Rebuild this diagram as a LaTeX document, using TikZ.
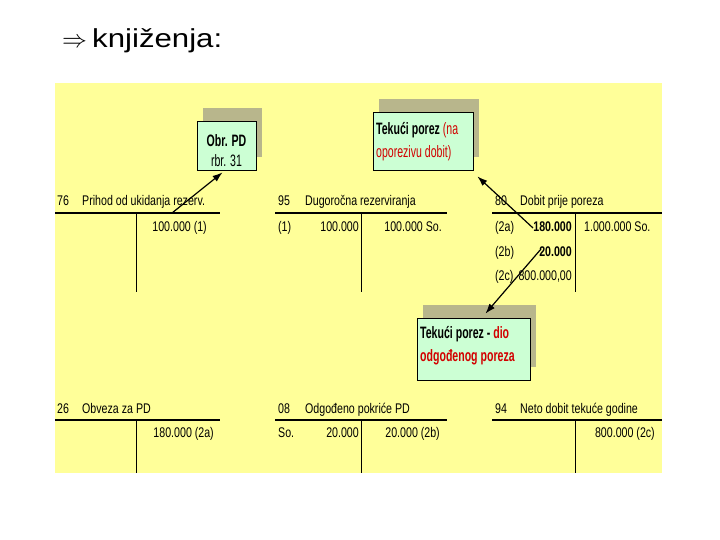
\documentclass[tikz,border=0pt]{standalone}
\usepackage{fontspec}
\setmainfont{Liberation Sans}
\newfontfamily\nar[FakeStretch=0.76]{Liberation Sans}
\newfontfamily\narr[FakeStretch=0.64]{Liberation Sans}
\newfontfamily\widefont[FakeStretch=1.2]{Liberation Sans}
\usetikzlibrary{shadows,arrows.meta}
\definecolor{bgyellow}{HTML}{FFFF99}
\definecolor{boxgreen}{HTML}{CCFFD4}
\definecolor{shadowc}{HTML}{B8B68C}
\definecolor{redtxt}{HTML}{D20000}
\tikzset{
  lbl/.style={inner sep=0pt, font=\nar\fontsize{14}{16}\selectfont},
  blbl/.style={inner sep=0pt, font=\nar\bfseries\fontsize{14}{16}\selectfont},
  boxtxt/.style={inner sep=0pt, font=\narr\fontsize{16.5}{19}\selectfont},
  acline/.style={line width=1.4pt},
  vline/.style={line width=0.9pt},
  notebox/.style={draw=black, line width=0.9pt, fill=boxgreen, inner sep=0pt,
     general shadow={fill=shadowc, shadow xshift=6pt, shadow yshift=13pt}},
  pointer/.style={line width=1.2pt, -{Latex[length=10pt,width=7pt]}}
}
\begin{document}
\begin{tikzpicture}[x=1pt,y=-1pt]
\useasboundingbox (0,0) rectangle (720,540);
% title
\node[inner sep=0pt, anchor=base west] (arrowsym) at (62,48) {\fontsize{28}{30}\selectfont$\Rightarrow$};
\node[inner sep=0pt, anchor=base west] (title) at (92,48) {\widefont\fontsize{26}{30}\selectfont knjiženja:};
% background
\fill[bgyellow] (55,83) rectangle (662,473);

% ---- top row accounts
\node[lbl, anchor=base west] (n76) at (57,206) {76};
\node[lbl, anchor=base west] (t76) at (82,206) {Prihod od ukidanja rezerv.};
\draw[acline] (55,213) -- (220,213);
\draw[vline] (136,213) -- (136,292);
\node[lbl, anchor=base east] (r76) at (207,231) {100.000 (1)};

\node[lbl, anchor=base west] (n95) at (278,206) {95};
\node[lbl, anchor=base west] (t95) at (305,206) {Dugoročna rezerviranja};
\draw[acline] (275,213) -- (447,213);
\draw[vline] (361,213) -- (361,292);
\node[lbl, anchor=base west] (l95a) at (278,231) {(1)};
\node[lbl, anchor=base east] (l95b) at (359,231) {100.000};
\node[lbl, anchor=base east] (r95) at (442,231) {100.000 So.};

\node[lbl, anchor=base west] (n80) at (495,206) {80};
\node[lbl, anchor=base west] (t80) at (520,206) {Dobit prije poreza};
\draw[acline] (492,213) -- (662,213);
\draw[vline] (575,213) -- (575,292);
\node[lbl, anchor=base west] (k2a) at (495,231) {(2a)};
\node[blbl, anchor=base east] (v2a) at (572,231) {180.000};
\node[lbl, anchor=base west] (r80) at (584,231) {1.000.000 So.};
\node[lbl, anchor=base west] (k2b) at (495,256) {(2b)};
\node[blbl, anchor=base east] (v2b) at (572,256) {20.000};
\node[lbl, anchor=base west] (k2c) at (495,280) {(2c)};
\node[lbl, anchor=base east] (v2c) at (572,280) {800.000,00};

% ---- bottom row accounts
\node[lbl, anchor=base west] (n26) at (57,413) {26};
\node[lbl, anchor=base west] (t26) at (82,413) {Obveza za PD};
\draw[acline] (55,420) -- (220,420);
\draw[vline] (136,420) -- (136,473);
\node[lbl, anchor=base east] (r26) at (214,437) {180.000 (2a)};

\node[lbl, anchor=base west] (n08) at (278,413) {08};
\node[lbl, anchor=base west] (t08) at (305,413) {Odgođeno pokriće PD};
\draw[acline] (275,420) -- (447,420);
\draw[vline] (361,420) -- (361,473);
\node[lbl, anchor=base west] (l08a) at (278,437) {So.};
\node[lbl, anchor=base east] (l08b) at (359,437) {20.000};
\node[lbl, anchor=base east] (r08) at (440,437) {20.000 (2b)};

\node[lbl, anchor=base west] (n94) at (495,413) {94};
\node[lbl, anchor=base west] (t94) at (520,413) {Neto dobit tekuće godine};
\draw[acline] (492,420) -- (662,420);
\draw[vline] (575,420) -- (575,473);
\node[lbl, anchor=base east] (r94) at (655,437) {800.000 (2c)};

% ---- note boxes
\node[notebox, minimum width=59pt, minimum height=49pt] (obr) at (226.5,145.5) {};
\node[boxtxt, anchor=base, font=\narr\bfseries\fontsize{16.5}{19}\selectfont] (obr1) at (obr.center |- 0,147) {Obr. PD};
\node[boxtxt, anchor=base] (obr2) at (obr.center |- 0,167) {rbr. 31};

\node[notebox, minimum width=100pt, minimum height=58pt] (tek) at (423,141) {};
\node[boxtxt, anchor=base west] (tek1) at (376,135) {\textbf{Tekući porez} \textcolor{redtxt}{(na}};
\node[boxtxt, anchor=base west, text=redtxt] (tek2) at (376,158) {oporezivu dobit)};

\node[notebox, minimum width=113pt, minimum height=62pt] (dio) at (473.5,349) {};
\node[boxtxt, anchor=base west, font=\narr\bfseries\fontsize{16.5}{19}\selectfont] (dio1) at (420,338) {Tekući porez - \textcolor{redtxt}{dio}};
\node[boxtxt, anchor=base west, text=redtxt, font=\narr\bfseries\fontsize{16.5}{19}\selectfont] (dio2) at (420,361) {odgođenog poreza};

% ---- pointers
\coordinate (s1) at (172,213);
\coordinate (s2) at (533,228);
\coordinate (s3) at (541,249);
\draw[pointer] (s1) -- ([xshift=-4pt,yshift=-2pt]obr.south);
\draw[pointer] (s2) -- ([xshift=4pt,yshift=-6pt]tek.south east);
\draw[pointer] (s3) -- ([xshift=12pt,yshift=4pt]dio.north);
\end{tikzpicture}
\end{document}
